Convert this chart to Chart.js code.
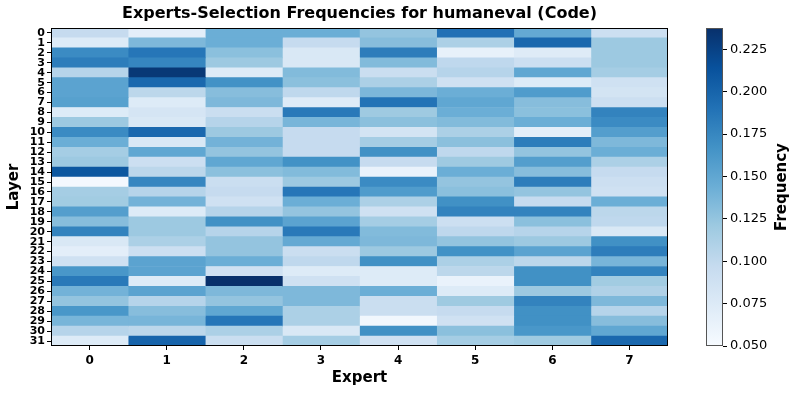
<!DOCTYPE html>
<html>
<head>
<meta charset="utf-8">
<script src="https://cdn.jsdelivr.net/npm/chart.js@4.4.1/dist/chart.umd.min.js"></script>
<style>
  html, body { margin: 0; padding: 0; background: #fff; }
  #wrap { position: relative; width: 797px; height: 395px; }
  #heatmap { position: absolute; left: 0; top: 0; }
  #colorbar { position: absolute; left: 680px; top: 0; }
</style>
</head>
<body>
<div id="wrap">
  <canvas id="heatmap" width="680" height="395"></canvas>
  <canvas id="colorbar" width="117" height="395"></canvas>
</div>
<script>
var layers = [];
for (var i = 0; i < 32; i++) layers.push(String(i));
var experts = ['0', '1', '2', '3', '4', '5', '6', '7'];

// frequency[layer][expert]
var frequency = [
    [0.097, 0.069, 0.144, 0.144, 0.125, 0.191, 0.148, 0.091],
    [0.074, 0.135, 0.144, 0.097, 0.131, 0.112, 0.197, 0.121],
    [0.172, 0.187, 0.129, 0.078, 0.182, 0.065, 0.073, 0.121],
    [0.182, 0.176, 0.121, 0.078, 0.133, 0.101, 0.091, 0.121],
    [0.106, 0.232, 0.074, 0.133, 0.093, 0.106, 0.150, 0.116],
    [0.153, 0.197, 0.167, 0.129, 0.112, 0.088, 0.074, 0.088],
    [0.153, 0.103, 0.131, 0.101, 0.136, 0.144, 0.159, 0.084],
    [0.155, 0.074, 0.135, 0.073, 0.189, 0.150, 0.131, 0.091],
    [0.074, 0.082, 0.093, 0.185, 0.120, 0.144, 0.129, 0.178],
    [0.121, 0.078, 0.106, 0.138, 0.129, 0.133, 0.144, 0.172],
    [0.172, 0.197, 0.121, 0.097, 0.084, 0.112, 0.069, 0.157],
    [0.144, 0.078, 0.140, 0.097, 0.116, 0.129, 0.182, 0.135],
    [0.116, 0.150, 0.125, 0.097, 0.168, 0.101, 0.125, 0.144],
    [0.121, 0.091, 0.150, 0.167, 0.097, 0.120, 0.157, 0.112],
    [0.210, 0.103, 0.129, 0.133, 0.063, 0.144, 0.131, 0.097],
    [0.054, 0.176, 0.093, 0.121, 0.172, 0.125, 0.182, 0.091],
    [0.116, 0.106, 0.097, 0.187, 0.159, 0.129, 0.125, 0.088],
    [0.118, 0.140, 0.088, 0.144, 0.112, 0.168, 0.097, 0.144],
    [0.157, 0.074, 0.106, 0.125, 0.088, 0.178, 0.178, 0.103],
    [0.131, 0.121, 0.168, 0.153, 0.116, 0.091, 0.129, 0.101],
    [0.178, 0.121, 0.106, 0.185, 0.133, 0.101, 0.106, 0.078],
    [0.078, 0.112, 0.125, 0.148, 0.135, 0.125, 0.121, 0.168],
    [0.069, 0.091, 0.125, 0.093, 0.121, 0.167, 0.153, 0.182],
    [0.088, 0.153, 0.144, 0.101, 0.168, 0.112, 0.103, 0.138],
    [0.163, 0.153, 0.088, 0.074, 0.074, 0.103, 0.168, 0.178],
    [0.185, 0.074, 0.238, 0.088, 0.074, 0.063, 0.168, 0.118],
    [0.140, 0.153, 0.135, 0.135, 0.144, 0.074, 0.121, 0.110],
    [0.125, 0.106, 0.125, 0.135, 0.093, 0.120, 0.178, 0.135],
    [0.163, 0.131, 0.150, 0.112, 0.093, 0.097, 0.168, 0.106],
    [0.138, 0.138, 0.187, 0.112, 0.056, 0.088, 0.168, 0.131],
    [0.106, 0.103, 0.112, 0.078, 0.168, 0.129, 0.163, 0.150],
    [0.074, 0.200, 0.093, 0.116, 0.088, 0.116, 0.120, 0.197]
];

var vmin = 0.05;
var vmax = 0.2375;
var expertTicks = [0, 1, 2, 3, 4, 5, 6, 7];
var colorbarTicks = [0.05, 0.075, 0.1, 0.125, 0.15, 0.175, 0.2, 0.225];

// matplotlib "Blues"
var bluesStops = [
    [247, 251, 255], [222, 235, 247], [198, 219, 239], [158, 202, 225],
    [107, 174, 214], [66, 146, 198], [33, 113, 181], [8, 81, 156], [8, 48, 107]
];

function blues(v) {
    var t = (v - vmin) / (vmax - vmin);
    t = Math.max(0, Math.min(1, t));
    var pos = t * (bluesStops.length - 1);
    var i = Math.min(Math.floor(pos), bluesStops.length - 2);
    var f = pos - i;
    var a = bluesStops[i], b = bluesStops[i + 1];
    var c = a.map(function (x, k) { return Math.round(x + (b[k] - x) * f); });
    return 'rgb(' + c.join(',') + ')';
}

var FONT = "'DejaVu Sans', sans-serif";

// axes frame, plus title / rotated label drawn by hand
var frame = {
    id: 'frame',
    afterDraw: function (chart, args, opts) {
        var a = chart.chartArea, c = chart.ctx;
        c.save();
        c.strokeStyle = opts.color || '#000';
        c.lineWidth = 1;
        c.strokeRect(Math.round(a.left) + 0.5, Math.round(a.top) + 0.5,
            Math.round(a.right - a.left) - 1, Math.round(a.bottom - a.top) - 1);
        c.fillStyle = '#000';
        c.textAlign = 'center';
        c.textBaseline = 'middle';
        if (opts.title) {
            c.font = 'bold 16px ' + FONT;
            c.fillText(opts.title, (a.left + a.right) / 2, 14);
        }
        if (opts.sideLabel) {
            c.font = 'bold 15px ' + FONT;
            c.translate(opts.sideX, (a.top + a.bottom) / 2);
            c.rotate(-Math.PI / 2);
            c.fillText(opts.sideLabel, 0, 0);
        }
        c.restore();
    }
};

document.addEventListener('DOMContentLoaded', function () {

    var heatCtx = document.getElementById('heatmap').getContext('2d');
    var heatChart = new Chart(heatCtx, {
        type: 'bar',
        data: {
            labels: layers,
            datasets: experts.map(function (e, j) {
                return {
                    label: 'Expert ' + e,
                    data: layers.map(function () { return [j - 0.5, j + 0.5]; }),
                    backgroundColor: frequency.map(function (row) { return blues(row[j]); }),
                    grouped: false,
                    barPercentage: 1,
                    categoryPercentage: 1,
                    borderWidth: 0
                };
            })
        },
        options: {
            indexAxis: 'y',
            responsive: false,
            animation: false,
            layout: { padding: { top: 28, right: 12, left: 0, bottom: 0 } },
            plugins: {
                legend: { display: false },
                tooltip: { enabled: false },
                frame: { title: 'Experts-Selection Frequencies for humaneval (Code)' }
            },
            scales: {
                x: {
                    type: 'linear',
                    min: -0.5,
                    max: 7.5,
                    afterBuildTicks: function (s) { s.ticks = expertTicks.map(function (v) { return { value: v }; }); },
                    afterFit: function (s) { s.height = 49; },
                    ticks: { color: '#000', font: { family: FONT, size: 12, weight: 'bold' }, padding: 4 },
                    grid: { drawOnChartArea: false, tickLength: 4, color: '#000' },
                    border: { display: false },
                    title: { display: true, text: 'Expert', color: '#000', font: { family: FONT, size: 15, weight: 'bold' }, padding: { top: 0, bottom: 8 } }
                },
                y: {
                    type: 'category',
                    afterFit: function (s) { s.width = 51; },
                    ticks: { autoSkip: false, color: '#000', font: { family: FONT, size: 11, weight: 'bold' }, padding: 2 },
                    grid: { offset: false, drawOnChartArea: false, tickLength: 4, color: '#000' },
                    border: { display: false },
                    title: { display: true, text: 'Layer', color: '#000', font: { family: FONT, size: 15, weight: 'bold' }, padding: { top: 5, bottom: 0 } }
                }
            }
        },
        plugins: [frame]
    });


    var cbCtx = document.getElementById('colorbar').getContext('2d');
    var cbChart = new Chart(cbCtx, {
        type: 'bar',
        data: {
            labels: [''],
            datasets: [{
                data: [[vmin, vmax]],
                backgroundColor: function (ctx) {
                    var a = ctx.chart.chartArea;
                    if (!a) return 'rgb(107,174,214)';
                    var g = ctx.chart.ctx.createLinearGradient(0, a.bottom, 0, a.top);
                    bluesStops.forEach(function (s, i) {
                        g.addColorStop(i / (bluesStops.length - 1), 'rgb(' + s.join(',') + ')');
                    });
                    return g;
                },
                barPercentage: 1,
                categoryPercentage: 1,
                borderWidth: 0
            }]
        },
        options: {
            responsive: false,
            animation: false,
            layout: { padding: { left: 26, top: 28, bottom: 49, right: 0 } },
            plugins: {
                legend: { display: false },
                tooltip: { enabled: false },
                frame: { color: '#555', sideLabel: 'Frequency', sideX: 102 }
            },
            scales: {
                x: { display: false },
                y: {
                    position: 'right',
                    min: vmin,
                    max: vmax,
                    afterBuildTicks: function (s) { s.ticks = colorbarTicks.map(function (v) { return { value: v }; }); },
                    afterFit: function (s) { s.width = 74; },
                    ticks: {
                        color: '#000',
                        font: { family: FONT, size: 13 },
                        padding: 3,
                        callback: function (v) { return Number(v).toFixed(3); }
                    },
                    grid: { drawOnChartArea: false, tickLength: 4, color: '#000' },
                    border: { display: false }
                }
            }
        },
        plugins: [frame]
    });
});
</script>
</body>
</html>
